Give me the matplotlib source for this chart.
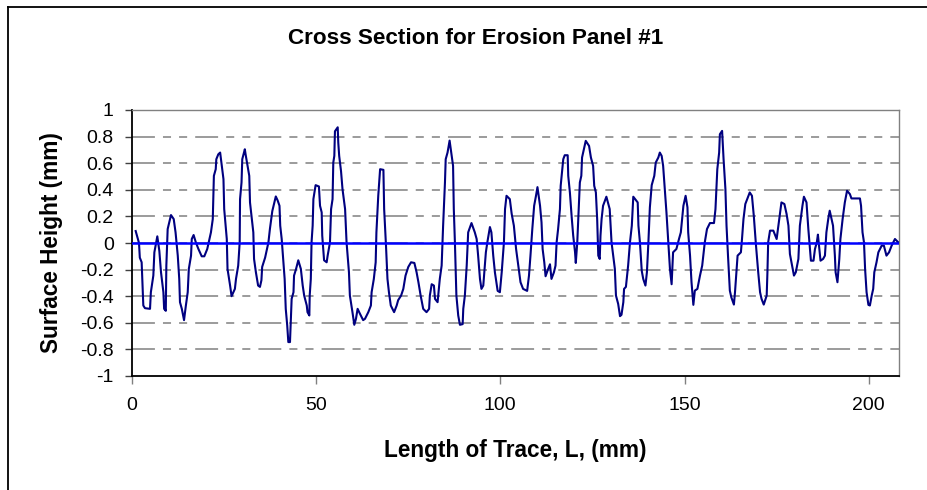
import matplotlib
matplotlib.use("Agg")
import matplotlib.pyplot as plt
from matplotlib.lines import Line2D

plt.rcParams['font.family'] = ['Liberation Sans', 'DejaVu Sans']
plt.rcParams['lines.scale_dashes'] = False

# Trace length (mm) and surface height (mm)
trace_mm = [
    1.08, 1.98, 2.2, 2.7, 3.15, 3.6, 4.97, 5.2, 5.87, 6.15, 6.95, 7.5, 7.95, 8.6, 8.8, 9.25,
    9.4, 9.76, 10.66, 11.4, 11.9, 12.5, 12.9, 13.1, 13.6, 14.2, 14.7, 15.2, 15.5, 16.1, 16.3,
    16.8, 17.4, 18.1, 19.0, 19.7, 20.5, 21.5, 22.0, 22.3, 22.8, 22.96, 23.5, 24.0, 24.9, 25.1,
    25.8, 26.0, 26.7, 27.1, 28.0, 28.3, 28.9, 29.3, 29.4, 29.8, 30.0, 30.7, 30.9, 31.9, 32.1,
    33.0, 33.2, 33.7, 34.3, 34.8, 35.2, 35.4, 36.2, 37.1, 37.5, 38.15, 38.7, 39.1, 39.6, 40.1,
    40.3, 40.7, 41.1, 41.5, 41.8, 42.2, 42.5, 42.95, 43.2, 43.4, 43.9, 44.05, 44.6, 45.2, 45.9,
    46.4, 46.8, 47.5, 47.7, 48.2, 48.3, 48.6, 48.8, 49.1, 49.3, 49.9, 50.8, 51.1, 51.55, 51.7,
    52.2, 52.9, 53.17, 53.8, 54.1, 54.5, 54.7, 54.98, 55.15, 55.9, 56.05, 56.3, 56.8, 57.2,
    57.9, 58.3, 58.95, 59.2, 59.9, 60.4, 60.85, 61.3, 61.9, 62.8, 63.3, 64.2, 64.9, 65.1, 65.7,
    66.2, 66.4, 66.9, 67.4, 68.3, 68.5, 69.0, 69.4, 69.8, 70.3, 71.2, 71.9, 72.3, 73.1, 73.7,
    74.3, 75.05, 75.8, 76.7, 77.3, 77.8, 78.4, 79.1, 80.0, 80.7, 80.9, 81.4, 82.0, 82.3, 83.0,
    83.6, 84.1, 84.5, 85.0, 85.2, 85.7, 86.26, 87.2, 87.4, 87.7, 88.1, 88.6, 89.06, 89.8, 89.97,
    90.4, 90.9, 91.3, 92.2, 93.1, 93.6, 94.0, 94.5, 94.9, 95.4, 96.1, 96.5, 97.2, 97.6, 98.1,
    98.55, 99.3, 99.9, 100.4, 101.0, 101.3, 101.7, 102.6, 103.1, 103.7, 104.3, 104.9, 105.5,
    106.2, 107.3, 107.8, 108.2, 108.7, 109.2, 109.7, 110.1, 110.8, 111.2, 111.5, 111.95, 112.3,
    113.0, 113.5, 113.9, 114.57, 115.0, 115.3, 115.7, 116.2, 116.4, 117.1, 117.5, 118.3, 118.45,
    118.9, 119.4, 119.8, 120.3, 120.5, 120.9, 121.3, 121.6, 122.0, 122.2, 122.8, 123.2, 124.1,
    124.6, 125.2, 125.5, 125.95, 126.3, 126.6, 127.0, 127.2, 127.5, 127.9, 128.4, 128.8, 129.7,
    130.2, 131.1, 131.4, 132.0, 132.5, 132.9, 133.4, 133.6, 134.1, 134.7, 135.2, 135.7, 136.1,
    137.3, 137.5, 137.9, 138.4, 138.8, 139.4, 139.8, 140.2, 140.6, 141.1, 141.8, 142.2, 142.9,
    143.3, 143.8, 144.2, 144.7, 145.1, 145.6, 146.05, 146.5, 146.9, 147.8, 148.5, 149.0, 149.7,
    150.3, 150.8, 151.0, 151.5, 151.9, 152.4, 152.8, 153.5, 154.2, 154.8, 155.5, 156.1, 156.9,
    158.0, 158.4, 158.9, 159.4, 159.6, 160.2, 160.6, 161.1, 161.4, 161.8, 162.3, 162.7, 163.4,
    163.7, 164.4, 165.3, 165.6, 166.0, 166.5, 167.7, 168.3, 168.8, 169.4, 170.0, 170.5, 170.9,
    171.5, 172.3, 172.5, 172.7, 173.2, 174.1, 175.0, 175.6, 176.3, 177.1, 177.7, 178.2, 178.6,
    179.2, 179.7, 180.2, 180.9, 181.3, 182.0, 182.4, 183.1, 183.6, 183.9, 184.3, 185.0, 185.4,
    185.9, 186.2, 186.6, 186.9, 187.6, 188.1, 188.5, 189.0, 189.4, 189.9, 190.3, 190.8, 191.0,
    191.5, 192.0, 192.3, 192.9, 193.5, 194.1, 194.87, 195.3, 196.5, 197.6, 197.9, 198.3, 198.7,
    199.0, 199.4, 199.9, 200.3, 200.8, 201.2, 201.5, 202.1, 202.6, 203.5, 204.1, 204.8, 205.5,
    206.2, 207.1, 208.0,
]
surface_height_mm = [
    0.09, 0.0, -0.11, -0.145, -0.47, -0.49, -0.495, -0.37, -0.245, -0.07, 0.05, -0.06, -0.22,
    -0.37, -0.495, -0.51, -0.17, 0.105, 0.21, 0.18, 0.08, -0.095, -0.27, -0.445, -0.495, -0.58,
    -0.47, -0.37, -0.195, -0.095, 0.03, 0.06, 0.005, -0.045, -0.10, -0.10, -0.045, 0.08, 0.18,
    0.505, 0.555, 0.63, 0.667, 0.68, 0.48, 0.255, 0.03, -0.195, -0.32, -0.40, -0.345, -0.27,
    -0.17, 0.005, 0.33, 0.455, 0.63, 0.705, 0.667, 0.505, 0.305, 0.08, -0.12, -0.22, -0.32,
    -0.33, -0.28, -0.18, -0.11, 0.005, 0.105, 0.24, 0.305, 0.35, 0.32, 0.28, 0.13, 0.03, -0.12,
    -0.27, -0.495, -0.62, -0.745, -0.745, -0.57, -0.42, -0.37, -0.245, -0.195, -0.13, -0.195,
    -0.32, -0.395, -0.47, -0.52, -0.545, -0.395, -0.27, 0.005, 0.13, 0.33, 0.435, 0.425, 0.28,
    0.23, 0.055, -0.13, -0.145, -0.095, 0.005, 0.255, 0.33, 0.605, 0.655, 0.84, 0.87, 0.755,
    0.655, 0.54, 0.405, 0.255, 0.005, -0.22, -0.395, -0.52, -0.615, -0.57, -0.495, -0.53, -0.58,
    -0.57, -0.52, -0.47, -0.37, -0.27, -0.145, 0.08, 0.355, 0.555, 0.55, 0.255, -0.02, -0.27,
    -0.37, -0.47, -0.52, -0.47, -0.43, -0.395, -0.345, -0.245, -0.18, -0.145, -0.15, -0.22,
    -0.295, -0.395, -0.495, -0.52, -0.495, -0.395, -0.31, -0.32, -0.42, -0.445, -0.27, -0.17,
    0.13, 0.455, 0.63, 0.68, 0.77, 0.58, 0.255, 0.005, -0.395, -0.545, -0.615, -0.61, -0.495,
    -0.395, -0.17, 0.08, 0.15, 0.08, 0.03, -0.095, -0.27, -0.345, -0.32, -0.07, 0.005, 0.12,
    0.08, -0.095, -0.22, -0.36, -0.37, -0.22, 0.005, 0.255, 0.355, 0.33, 0.22, 0.13, -0.045,
    -0.17, -0.295, -0.345, -0.36, -0.245, -0.095, 0.105, 0.28, 0.355, 0.42, 0.28, 0.155, -0.045,
    -0.145, -0.25, -0.195, -0.16, -0.27, -0.22, -0.17, 0.005, 0.105, 0.255, 0.43, 0.63, 0.66,
    0.66, 0.505, 0.38, 0.19, 0.055, -0.07, -0.15, 0.005, 0.255, 0.455, 0.505, 0.643, 0.718,
    0.768, 0.73, 0.643, 0.58, 0.43, 0.38, 0.18, -0.095, -0.12, 0.055, 0.18, 0.28, 0.318, 0.348,
    0.255, 0.005, -0.195, -0.395, -0.458, -0.55, -0.54, -0.445, -0.345, -0.33, -0.17, 0.005,
    0.13, 0.348, 0.305, 0.13, 0.005, -0.21, -0.27, -0.32, -0.22, 0.005, 0.268, 0.435, 0.505,
    0.605, 0.643, 0.68, 0.655, 0.58, 0.38, 0.23, 0.005, -0.195, -0.31, -0.07, -0.045, 0.03,
    0.08, 0.28, 0.355, 0.268, 0.08, -0.095, -0.295, -0.465, -0.358, -0.345, -0.245, -0.17,
    0.005, 0.105, 0.15, 0.15, 0.255, 0.555, 0.68, 0.818, 0.843, 0.63, 0.405, 0.13, -0.095,
    -0.358, -0.408, -0.463, -0.37, -0.095, -0.07, 0.03, 0.18, 0.293, 0.38, 0.355, 0.205, -0.02,
    -0.22, -0.37, -0.42, -0.463, -0.395, -0.22, 0.005, 0.093, 0.093, 0.03, 0.155, 0.305, 0.293,
    0.218, 0.13, -0.083, -0.17, -0.245, -0.22, -0.12, 0.13, 0.28, 0.348, 0.305, 0.105, 0.005,
    -0.133, -0.133, -0.045, 0.005, 0.063, -0.045, -0.133, -0.12, -0.095, 0.08, 0.18, 0.243,
    0.18, 0.13, -0.095, -0.22, -0.295, -0.12, 0.03, 0.18, 0.305, 0.393, 0.368, 0.335, 0.335,
    0.335, 0.28, 0.08, 0.005, -0.195, -0.37, -0.465, -0.47, -0.395, -0.345, -0.22, -0.145,
    -0.07, -0.02, -0.02, -0.095, -0.07, -0.02, 0.03, 0.005,
]
baseline_mm = 0.0

x_ticks = [0, 50, 100, 150, 200]
y_ticks = [-1, -0.8, -0.6, -0.4, -0.2, 0, 0.2, 0.4, 0.6, 0.8, 1]
y_tick_labels = ["-1", "-0.8", "-0.6", "-0.4", "-0.2", "0", "0.2", "0.4", "0.6", "0.8", "1"]

W, H = 928, 490
fig = plt.figure(figsize=(W / 100, H / 100), dpi=100)
fig.patch.set_facecolor('white')

# outer chart-area border (top and left visible)
fig.add_artist(Line2D([8 / W, 8 / W], [0, 1 - 7 / H], transform=fig.transFigure,
                      color='black', lw=1.3))
fig.add_artist(Line2D([8 / W, 1], [1 - 7 / H, 1 - 7 / H], transform=fig.transFigure,
                      color='black', lw=1.3))

ax_l, ax_r, ax_t, ax_b = 131.7, 899.0, 110.0, 376.0
ax = fig.add_axes([ax_l / W, 1 - ax_b / H, (ax_r - ax_l) / W, (ax_b - ax_t) / H])

ax.plot(trace_mm, surface_height_mm, color='#000080', lw=1.5, zorder=3)
ax.axhline(baseline_mm, color='#0000FF', lw=1.8, zorder=4)

ax.set_xlim(0, 208.2)
ax.set_ylim(-1, 1)
ax.set_xticks(x_ticks)
ax.set_yticks(y_ticks)
ax.set_yticklabels(y_tick_labels)

for y in y_ticks[1:]:
    ax.axhline(y, color='#808080', lw=1.1, zorder=1,
               linestyle=(0, (16.5, 5.8, 5.8, 5.8, 5.8, 5.8)))

for side in ['left', 'bottom']:
    ax.spines[side].set_color('black')
    ax.spines[side].set_linewidth(1.3)
for side in ['top', 'right']:
    ax.spines[side].set_color('#808080')
    ax.spines[side].set_linewidth(1.0)

ax.tick_params(axis='y', direction='out', length=5, width=1, color='#404040',
               labelsize=14, pad=8)
ax.tick_params(axis='x', direction='out', length=6, width=1, color='#808080',
               labelsize=14, pad=9)

fig.text(476 / W, 1 - 38 / H, "Cross Section for Erosion Panel #1", fontsize=16.2,
         fontweight='bold', ha='center', va='center')

ax.set_xlabel("Length of Trace, L, (mm)", fontsize=16.3, fontweight='bold')
ax.xaxis.set_label_coords((515 - ax_l) / (ax_r - ax_l), (ax_b - 450) / (ax_b - ax_t))
ax.xaxis.label.set_va('center')
ax.set_ylabel("Surface Height (mm)", fontsize=16.3, fontweight='bold')
ax.yaxis.set_label_coords((52 - ax_l) / (ax_r - ax_l), (ax_b - 243) / (ax_b - ax_t))
ax.yaxis.label.set_va('center')

fig.savefig("out.png", dpi=100, facecolor='white')
